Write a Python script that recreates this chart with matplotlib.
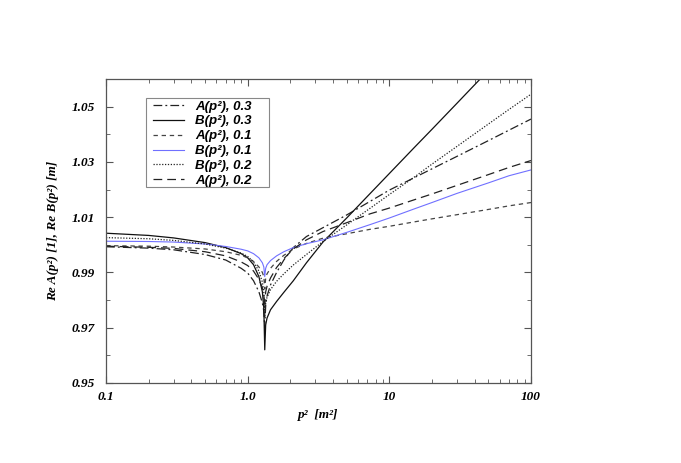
import matplotlib
matplotlib.use("Agg")
import matplotlib.pyplot as plt
from matplotlib.patches import Rectangle
from matplotlib.ticker import FixedLocator, NullFormatter, LogLocator

# p^2 sample points [m^2]
p2 = [0.1, 0.2, 0.3, 0.5, 0.7, 0.9, 1.0, 1.1, 1.2, 1.27, 1.3, 1.32, 1.34, 1.37,
      1.45, 1.6, 1.8, 2.1, 2.6, 3.4, 5, 7.3, 10, 15, 20, 30, 50, 70, 100]

A_03 = [0.9993, 0.9988, 0.9982, 0.9965, 0.9945, 0.9915, 0.9898, 0.9870, 0.9830, 0.9790,
        0.9760, 0.9700, 0.9780, 0.9815, 0.9855, 0.9900, 0.9945, 0.9990, 1.0030, 1.0062,
        1.0108, 1.0157, 1.0198, 1.0243, 1.0275, 1.0320, 1.0377, 1.0415, 1.0455]
B_03 = [1.0042, 1.0034, 1.0025, 1.0008, 0.9990, 0.9968, 0.9953, 0.9928, 0.9885, 0.9830,
        0.9770, 0.9620, 0.9710, 0.9735, 0.9765, 0.9795, 0.9828, 0.9870, 0.9935, 1.0010,
        1.0097, 1.0185, 1.0258, 1.0352, 1.0418, 1.0512, 1.0631, 1.0709, 1.0790]
A_01 = [0.9997, 0.9995, 0.9992, 0.9985, 0.9975, 0.9962, 0.9953, 0.9940, 0.9920, 0.9900,
        0.9885, 0.9840, 0.9880, 0.9895, 0.9915, 0.9940, 0.9962, 0.9985, 1.0005, 1.0024,
        1.0040, 1.0056, 1.0067, 1.0083, 1.0094, 1.0109, 1.0128, 1.0141, 1.0153]
B_01 = [1.0013, 1.0012, 1.0010, 1.0003, 0.9994, 0.9984, 0.9978, 0.9968, 0.9953, 0.9935,
        0.9920, 0.9885, 0.9915, 0.9928, 0.9943, 0.9960, 0.9975, 0.9990, 1.0004, 1.0018,
        1.0045, 1.0073, 1.0097, 1.0130, 1.0153, 1.0186, 1.0224, 1.0250, 1.0271]
B_02 = [1.0026, 1.0022, 1.0016, 1.0003, 0.9988, 0.9970, 0.9958, 0.9938, 0.9905, 0.9865,
        0.9830, 0.9740, 0.9790, 0.9810, 0.9838, 0.9868, 0.9895, 0.9927, 0.9965, 1.0012,
        1.0072, 1.0132, 1.0182, 1.0245, 1.0292, 1.0356, 1.0437, 1.0490, 1.0545]
A_02 = [0.9995, 0.9991, 0.9987, 0.9975, 0.9960, 0.9938, 0.9925, 0.9905, 0.9875, 0.9845,
        0.9820, 0.9770, 0.9830, 0.9850, 0.9880, 0.9918, 0.9950, 0.9985, 1.0018, 1.0048,
        1.0080, 1.0112, 1.0133, 1.0163, 1.0184, 1.0215, 1.0254, 1.0280, 1.0305]

labels = ["A(p²), 0.3", "B(p²), 0.3", "A(p²), 0.1",
          "B(p²), 0.1", "B(p²), 0.2", "A(p²), 0.2"]
series = [A_03, B_03, A_01, B_01, B_02, A_02]
styles = [dict(color="#222222", ls=(0, (7, 2.5, 1.5, 2.5)), lw=0.9),
          dict(color="#111111", ls="-", lw=0.9),
          dict(color="#444444", ls=(0, (3.5, 3)), lw=0.9),
          dict(color="#7070ff", ls="-", lw=0.8),
          dict(color="#222222", ls=(0, (1, 1.3)), lw=0.9),
          dict(color="#222222", ls=(0, (7, 4)), lw=0.9)]

yticks = [0.95, 0.97, 0.99, 1.01, 1.03, 1.05]
xticks = [0.1, 1.0, 10, 100]
xticklabels = ["0.1", "1.0", "10", "100"]

serif = "Liberation Serif"
sans = "Liberation Sans"

fig = plt.figure(figsize=(6.81, 4.63), dpi=100)
ax = fig.add_axes([106 / 681, 80 / 463, 425 / 681, 304 / 463])

for y, lab, st in zip(series, labels, styles):
    ax.plot(p2, y, label=lab, **st)

ax.set_xscale("log")
ax.set_xlim(0.1, 100)
ax.set_ylim(0.95, 1.06)

ax.xaxis.set_major_locator(FixedLocator(xticks))
ax.set_xticklabels(xticklabels)
ax.xaxis.set_minor_locator(LogLocator(base=10, subs=range(2, 10)))
ax.xaxis.set_minor_formatter(NullFormatter())
ax.yaxis.set_major_locator(FixedLocator(yticks))
ax.set_yticklabels(["%.2f" % v for v in yticks])
ax.yaxis.set_minor_locator(FixedLocator([0.96, 0.98, 1.00, 1.02, 1.04, 1.06]))

ax.tick_params(which="both", direction="in", top=True, right=True, color="#555555")
ax.tick_params(which="major", length=5, width=0.8)
ax.tick_params(which="minor", length=3, width=0.6)
ax.tick_params(axis="y", pad=8)
ax.tick_params(axis="x", pad=6)
for lab in ax.get_xticklabels() + ax.get_yticklabels():
    lab.set_fontfamily(serif)
    lab.set_fontweight("bold")
    lab.set_fontstyle("italic")
    lab.set_fontsize(9.5)
for sp in ax.spines.values():
    sp.set_color("#555555")
    sp.set_linewidth(0.9)

ax.set_xlabel("p²  [m²]", fontfamily=serif, fontweight="bold",
              fontstyle="italic", fontsize=9.5, labelpad=4)
ax.set_ylabel("Re A(p²) [1], Re B(p²) [m]", fontfamily=serif,
              fontweight="bold", fontstyle="italic", fontsize=9.5, labelpad=9)

# legend frame (drawn separately to allow wider horizontal padding)
ax.add_patch(Rectangle((0.0941, 0.6447), 0.2894, 0.2928, transform=ax.transAxes,
                       facecolor="white", edgecolor="#888888", lw=0.8, zorder=4))
leg = ax.legend(loc="upper left", bbox_to_anchor=(0.1106, 0.930), borderaxespad=0,
                frameon=False, handlelength=2.35, handletextpad=0.83,
                labelspacing=0.2, borderpad=0.0,
                prop=dict(family=sans, weight="bold", style="italic", size=9.5))
leg.set_zorder(5)

fig.savefig("out.png", dpi=100)
